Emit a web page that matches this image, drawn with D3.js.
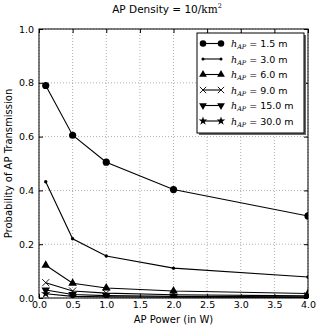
<!DOCTYPE html>
<html>
<head>
<meta charset="utf-8">
<script src="https://cdn.jsdelivr.net/npm/d3@7"></script>
<style>
  body { margin: 0; background: #fff; }
  svg { display: block; font-family: "DejaVu Sans", sans-serif; }
</style>
</head>
<body>
<svg id="chart" width="321" height="327"></svg>
<script>
// AP power values (W)
var powers = [0.1, 0.5, 1.0, 2.0, 4.0];

// antenna heights
var heights = ["1.5", "3.0", "6.0", "9.0", "15.0", "30.0"];

// probability of transmission per height
var p15 = [0.790, 0.605, 0.505, 0.403, 0.305];
var p30 = [0.432, 0.220, 0.156, 0.111, 0.078];
var p60 = [0.122, 0.055, 0.037, 0.026, 0.017];
var p90 = [0.057, 0.026, 0.018, 0.012, 0.008];
var p150 = [0.030, 0.013, 0.009, 0.006, 0.004];
var p300 = [0.016, 0.006, 0.004, 0.003, 0.002];

var xTicks = [0, 0.5, 1.0, 1.5, 2.0, 2.5, 3.0, 3.5, 4.0];
var yTicks = [0, 0.2, 0.4, 0.6, 0.8, 1.0];

var series = [p15, p30, p60, p90, p150, p300];
var markers = ["circle", "point", "triUp", "cross", "triDown", "star"];

var margin = {left: 39, top: 29, right: 13, bottom: 29};
var W = 321, H = 327;
var pw = W - margin.left - margin.right;
var ph = H - margin.top - margin.bottom;

var svg = d3.select("#chart");

var x = d3.scaleLinear().domain([0, 4]).range([0, pw]);
var y = d3.scaleLinear().domain([0, 1]).range([ph, 0]);

var g = svg.append("g").attr("transform", "translate(" + margin.left + "," + margin.top + ")");

// grid
g.selectAll(".vgrid").data(xTicks).enter().append("line")
    .attr("x1", function(d){return x(d);}).attr("x2", function(d){return x(d);})
    .attr("y1", 0).attr("y2", ph)
    .attr("stroke", "#999").attr("stroke-width", 0.8).attr("stroke-dasharray", "1,2");
g.selectAll(".hgrid").data(yTicks).enter().append("line")
    .attr("y1", function(d){return y(d);}).attr("y2", function(d){return y(d);})
    .attr("x1", 0).attr("x2", pw)
    .attr("stroke", "#999").attr("stroke-width", 0.8).attr("stroke-dasharray", "1,2");

// axes, ticks pointing in
var xAxis = g.append("g").attr("transform", "translate(0," + ph + ")")
    .call(d3.axisBottom(x).tickValues(xTicks).tickSize(-4).tickPadding(3).tickFormat(d3.format(".1f")));
var xTop = g.append("g")
    .call(d3.axisTop(x).tickValues(xTicks).tickSize(-4).tickFormat(""));
var yAxis = g.append("g")
    .call(d3.axisLeft(y).tickValues(yTicks).tickSize(-4).tickPadding(5).tickFormat(d3.format(".1f")));
var yRight = g.append("g").attr("transform", "translate(" + pw + ",0)")
    .call(d3.axisRight(y).tickValues(yTicks).tickSize(-4).tickFormat(""));

[xAxis, xTop, yAxis, yRight].forEach(function(a){
    a.select(".domain").remove();
    a.selectAll("line").attr("stroke", "#000");
    a.selectAll("text").attr("font-size", 9.5).attr("fill", "#000")
        .attr("font-family", "DejaVu Sans");
});

// marker drawing
var drawMarker = function (sel, type, s) {
    if (type === "circle") {
        sel.append("circle").attr("r", 3.6 * s).attr("fill", "#000");
    } else if (type === "point") {
        sel.append("circle").attr("r", 1.7 * s).attr("fill", "#000");
    } else if (type === "triUp") {
        sel.append("path").attr("d", d3.symbol().type(d3.symbolTriangle).size(32 * s * s)).attr("fill", "#000");
    } else if (type === "triDown") {
        sel.append("path").attr("d", d3.symbol().type(d3.symbolTriangle).size(32 * s * s))
            .attr("transform", "rotate(180)").attr("fill", "#000");
    } else if (type === "cross") {
        var c = 3.5 * s;
        sel.append("path").attr("d", "M" + (-c) + "," + (-c) + "L" + c + "," + c + "M" + (-c) + "," + c + "L" + c + "," + (-c))
            .attr("stroke", "#000").attr("stroke-width", 0.9).attr("fill", "none");
    } else if (type === "star") {
        sel.append("path").attr("d", d3.symbol().type(d3.symbolStar).size(28 * s * s)).attr("fill", "#000");
    }
};

var line = d3.line()
    .x(function(d,i){return x(powers[i]);})
    .y(function(d){return y(d);});

// clip marks to the axes box, like the original
svg.append("defs").append("clipPath").attr("id", "clip")
    .append("rect").attr("x", 0).attr("y", 0).attr("width", pw).attr("height", ph);

series.forEach(function(s, k){
    var sg = g.append("g").attr("clip-path", "url(#clip)");
    sg.append("path").datum(s).attr("d", line)
        .attr("fill", "none").attr("stroke", "#000").attr("stroke-width", 1.1);
    sg.selectAll("g.m").data(s).enter().append("g")
        .attr("transform", function(d,i){return "translate(" + x(powers[i]) + "," + y(d) + ")";})
        .each(function(){ drawMarker(d3.select(this), markers[k], 1); });
});

g.append("rect").attr("width", pw).attr("height", ph)
    .attr("fill", "none").attr("stroke", "#000").attr("stroke-width", 1);

// legend
var lx = 197, ly = 33, lw = 107, lh = 100;
var leg = svg.append("g");
leg.append("rect").attr("x", lx + 2).attr("y", ly + 2).attr("width", lw).attr("height", lh).attr("fill", "#666");
leg.append("rect").attr("x", lx).attr("y", ly).attr("width", lw).attr("height", lh)
    .attr("fill", "#fff").attr("stroke", "#000").attr("stroke-width", 1);

heights.forEach(function(h, k){
    var yy = ly + 10.5 + k * 15.5;
    var e = leg.append("g");
    e.append("line").attr("x1", lx + 6).attr("x2", lx + 24).attr("y1", yy).attr("y2", yy)
        .attr("stroke", "#000").attr("stroke-width", 1.1);
    [lx + 6, lx + 24].forEach(function(mx){
        drawMarker(e.append("g").attr("transform", "translate(" + mx + "," + yy + ")"), markers[k], 0.9);
    });
    var t = e.append("text").attr("x", lx + 34).attr("y", yy + 3.5).attr("font-size", 9.5);
    t.append("tspan").attr("font-family", "DejaVu Serif").attr("font-style", "italic").text("h");
    t.append("tspan").attr("font-family", "DejaVu Serif").attr("font-style", "italic")
        .attr("font-size", 6.5).attr("dy", 2).text("AP");
    t.append("tspan").attr("dy", -2).text(" = " + h + " m");
});

// title and labels
var title = svg.append("text").attr("x", 167).attr("y", 13).attr("text-anchor", "middle").attr("font-size", 10.5);
title.append("tspan").text("AP Density = 10/");
title.append("tspan").attr("font-family", "DejaVu Serif").text("km");
title.append("tspan").attr("font-family", "DejaVu Serif").attr("font-size", 6.5).attr("dy", -5).text("2");

svg.append("text").attr("x", margin.left + pw / 2).attr("y", 323).attr("text-anchor", "middle")
    .attr("font-size", 10).text("AP Power (in W)");

svg.append("text").attr("transform", "translate(11.5," + (margin.top + ph / 2) + ") rotate(-90)")
    .attr("text-anchor", "middle").attr("font-size", 10).text("Probability of AP Transmission");
</script>
</body>
</html>
